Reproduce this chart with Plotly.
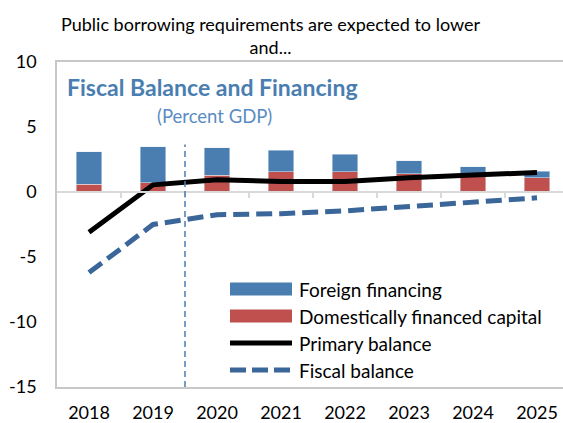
import plotly.graph_objects as go

# Data (percent of GDP)
years = ["2018", "2019", "2020", "2021", "2022", "2023", "2024", "2025"]
domestic_capital = [0.6, 0.7, 1.3, 1.55, 1.55, 1.4, 1.2, 1.1]
foreign_financing = [2.5, 2.8, 2.1, 1.65, 1.35, 1.0, 0.75, 0.5]
primary_balance = [-3.1, 0.55, 0.95, 0.8, 0.8, 1.1, 1.3, 1.5]
fiscal_balance = [-6.2, -2.5, -1.75, -1.67, -1.45, -1.13, -0.75, -0.45]
y_ticks = [-15, -10, -5, 0, 5, 10]
y_tick_labels = ["-15", "-10", "-5", "0", "5", "10"]

W, H = 563, 423
ML, MR, MT, MB = 57, 0, 62, 36
PW, PH = W - ML - MR, H - MT - MB

FONT = "Lato"
BLUE = "#4a7eb0"
RED = "#c0504d"
DARK_BLUE = "#3a6699"
GRID = "#c8c8c8"


def px(x):
    return (x - ML) / PW


def py(y):
    return (H - MB - y) / PH


x_idx = list(range(len(years)))

fig = go.Figure()
fig.add_trace(go.Bar(x=x_idx, y=domestic_capital, marker_color=RED, width=0.4,
                     name="Domestically financed capital"))
fig.add_trace(go.Bar(x=x_idx, y=foreign_financing, marker_color=BLUE, width=0.4,
                     name="Foreign financing"))
fig.add_trace(go.Scatter(x=x_idx, y=primary_balance, mode="lines",
                         line=dict(color="black", width=5), name="Primary balance"))
fig.add_trace(go.Scatter(x=x_idx, y=fiscal_balance, mode="lines",
                         line=dict(color=DARK_BLUE, width=5, dash="16px,7px"),
                         name="Fiscal balance"))

# zero-line tick marks between categories
fig.add_trace(go.Scatter(x=[0], y=[0], xaxis="x2", mode="markers",
                         marker=dict(opacity=0), showlegend=False, hoverinfo="skip"))

# vertical dashed divider between 2019 and 2020
fig.add_shape(type="line", xref="x", yref="y", x0=1.5, x1=1.5, y0=-15, y1=3.65,
              line=dict(color=BLUE, width=1.5, dash="6px,4px"))

# custom legend
legend_rows = [
    ("Foreign financing", "bar", BLUE, 289),
    ("Domestically financed capital", "bar", RED, 316),
    ("Primary balance", "line", "black", 343),
    ("Fiscal balance", "dash", DARK_BLUE, 370),
]
for label, kind, color, yc in legend_rows:
    if kind == "bar":
        fig.add_shape(type="rect", xref="paper", yref="paper",
                      x0=px(230), x1=px(292), y0=py(yc + 6.5), y1=py(yc - 6.5),
                      fillcolor=color, line=dict(width=0))
    else:
        fig.add_shape(type="line", xref="paper", yref="paper",
                      x0=px(230), x1=px(292), y0=py(yc), y1=py(yc),
                      line=dict(color=color, width=5,
                                dash="solid" if kind == "line" else "16px,6px"))
    fig.add_annotation(xref="paper", yref="paper", x=px(297), y=py(yc),
                       xanchor="left", yanchor="middle", text=label, showarrow=False,
                       font=dict(family=FONT, size=19, color="black"))

# titles
fig.add_annotation(xref="paper", yref="paper", x=px(271), y=py(36),
                   xanchor="center", yanchor="middle", showarrow=False,
                   text="Public borrowing requirements are expected to lower<br>and...",
                   font=dict(family=FONT, size=18, color="black"))
fig.add_annotation(xref="paper", yref="paper", x=px(65), y=py(87),
                   xanchor="left", yanchor="middle", showarrow=False,
                   text="<b>Fiscal Balance and Financing</b>",
                   font=dict(family=FONT, size=23, color=BLUE))
fig.add_annotation(xref="paper", yref="paper", x=px(214), y=py(116),
                   xanchor="center", yanchor="middle", showarrow=False,
                   text="(Percent GDP)",
                   font=dict(family=FONT, size=18.5, color="#5a8cc2"))

x_range = [-0.5, -0.5 + PW / 64]

fig.update_layout(
    width=W, height=H,
    margin=dict(l=ML, r=MR, t=MT, b=MB, pad=0),
    paper_bgcolor="white", plot_bgcolor="white",
    barmode="stack", showlegend=False,
    font=dict(family=FONT, size=18, color="black"),
    xaxis=dict(range=x_range, tickmode="array", tickvals=x_idx, ticktext=years,
               showgrid=False, zeroline=False, showline=True, linecolor=GRID,
               linewidth=1.5, mirror=True, ticks="", ticklabelstandoff=9,
               tickfont=dict(family=FONT, size=18, color="black")),
    xaxis2=dict(range=x_range, overlaying="x", anchor="free", position=0.6,
                side="bottom", tickmode="array", tickvals=[i + 0.5 for i in x_idx[:-1]],
                showticklabels=False, ticks="outside", ticklen=5, tickwidth=1.5,
                tickcolor="#d9d9d9", showline=True, linecolor="#d9d9d9", linewidth=2,
                showgrid=False, zeroline=False),
    yaxis=dict(range=[-15, 10], tickmode="array", tickvals=y_ticks,
               ticktext=y_tick_labels,
               showgrid=False, zeroline=False, showline=True, linecolor=GRID,
               linewidth=1.5, ticks="", ticklabelstandoff=15,
               tickfont=dict(family=FONT, size=18, color="black")),
)

fig.write_html("out.html")
